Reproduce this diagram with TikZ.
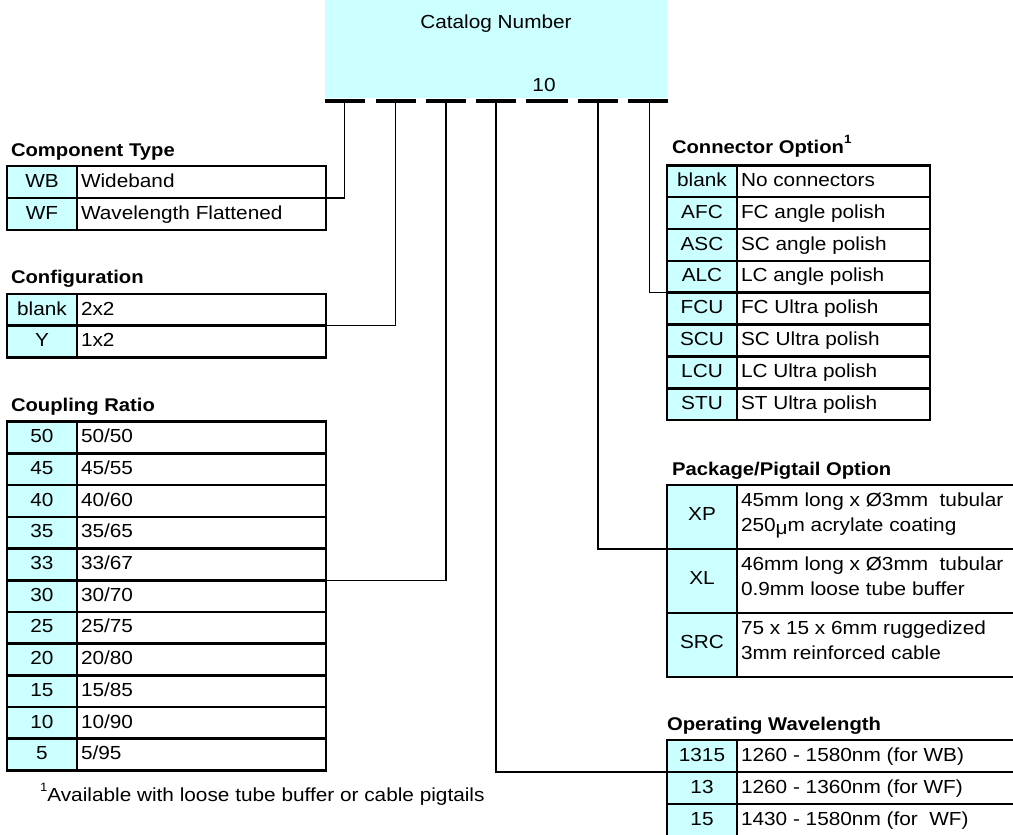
\documentclass[tikz,border=0pt]{standalone}
\usepackage{fontspec}
\setmainfont{Liberation Sans}[FakeStretch=1.1]
\definecolor{cellcyan}{HTML}{CCFFFF}
\newcommand\trow[9]{%
  \node[codebox, minimum width=#4, minimum height=#6] (#1c) at (#2,#3) {};
  \node[descbox, minimum width=#5, minimum height=#6] (#1d) at (#1c.north east) {};
  \node[anchor=base] (#1ct) at ([yshift=-#9pt]#1c.north) {#7};
  \node[anchor=base west] (#1dt) at ([xshift=4pt,yshift=-21pt]#1d.north west) {#8};
}
\newcommand\supone[1]{\raisebox{0.5em}{\fontsize{12}{12}\selectfont #1}}
\begin{document}
\begin{tikzpicture}[x=1pt,y=-1pt,
  every node/.style={font=\fontsize{18.9}{22}\selectfont, inner sep=0pt, outer sep=0pt},
  codebox/.style={draw, line width=2.6pt, fill=cellcyan, anchor=north west},
  descbox/.style={draw, line width=2.6pt, anchor=north west},
  title/.style={anchor=base west, font=\fontsize{18.4}{22}\selectfont\bfseries},
  conn/.style={line width=1.4pt},
  dashbar/.style={fill=black, draw=none, minimum height=4, minimum width=40}
]
\useasboundingbox (0,0) rectangle (1013,835);
\clip (0,0) rectangle (1013,835);

% catalog box
\node[fill=cellcyan, minimum width=342, minimum height=98, anchor=north west] (cat) at (325,0) {};
\node[anchor=base] (catt) at ([yshift=-28pt]cat.north) {Catalog Number};
\node[dashbar] (d1) at (344.5,100.7) {};
\node[dashbar] (d2) at (395.5,100.7) {};
\node[dashbar] (d3) at (446,100.7) {};
\node[dashbar] (d4) at (496,100.7) {};
\node[dashbar, minimum width=42] (d5) at (547,100.7) {};
\node[dashbar] (d6) at (598,100.7) {};
\node[dashbar] (d7) at (648,100.7) {};
\coordinate (d7s) at ([xshift=1.5pt]d7.south);
\node[anchor=base] (ten) at ([xshift=-3pt,yshift=7pt]d5.north) {10};

% Component Type
\node[title] (tct) at (11,156.5) {Component Type};
\trow{ct1}{7}{166}{70}{249}{32}{WB}{Wideband}{21}
\trow{ct2}{7}{198}{70}{249}{32}{WF}{Wavelength Flattened}{21}

% Configuration
\node[title] (tcf) at (11,283) {Configuration};
\trow{cf1}{7}{294}{70}{249}{31.7}{blank}{2x2}{21}
\trow{cf2}{7}{325.7}{70}{249}{31.7}{Y}{1x2}{21}

% Coupling Ratio
\node[title] (tcr) at (11,411) {Coupling Ratio};
\trow{cr1}{7}{421.7}{70}{249}{31.7}{50}{50/50}{21}
\trow{cr2}{7}{453.4}{70}{249}{31.7}{45}{45/55}{21}
\trow{cr3}{7}{485.1}{70}{249}{31.7}{40}{40/60}{21}
\trow{cr4}{7}{516.8}{70}{249}{31.7}{35}{35/65}{21}
\trow{cr5}{7}{548.5}{70}{249}{31.7}{33}{33/67}{21}
\trow{cr6}{7}{580.2}{70}{249}{31.7}{30}{30/70}{21}
\trow{cr7}{7}{611.9}{70}{249}{31.7}{25}{25/75}{21}
\trow{cr8}{7}{643.6}{70}{249}{31.7}{20}{20/80}{21}
\trow{cr9}{7}{675.3}{70}{249}{31.7}{15}{15/85}{21}
\trow{cr10}{7}{707.0}{70}{249}{31.7}{10}{10/90}{21}
\trow{cr11}{7}{738.7}{70}{249}{31.7}{5}{5/95}{21}

% Connector Option
\node[title] (tco) at (672,153) {Connector Option\supone{\bfseries 1}};
\trow{co1}{667}{165.3}{70}{193}{31.85}{blank}{No connectors}{21}
\trow{co2}{667}{197.15}{70}{193}{31.85}{AFC}{FC angle polish}{21}
\trow{co3}{667}{229.0}{70}{193}{31.85}{ASC}{SC angle polish}{21}
\trow{co4}{667}{260.85}{70}{193}{31.85}{ALC}{LC angle polish}{21}
\trow{co5}{667}{292.7}{70}{193}{31.85}{FCU}{FC Ultra polish}{21}
\trow{co6}{667}{324.55}{70}{193}{31.85}{SCU}{SC Ultra polish}{21}
\trow{co7}{667}{356.4}{70}{193}{31.85}{LCU}{LC Ultra polish}{21}
\trow{co8}{667}{388.25}{70}{193}{31.85}{STU}{ST Ultra polish}{21}

% Package/Pigtail Option
\node[title] (tpk) at (672,475) {Package/Pigtail Option};
\trow{pk1}{667}{485}{70}{330}{64}{XP}{45mm long x Ø3mm~ tubular}{35}
\trow{pk2}{667}{549}{70}{330}{64}{XL}{46mm long x Ø3mm~ tubular}{35}
\trow{pk3}{667}{613}{70}{330}{64}{SRC}{75 x 15 x 6mm ruggedized}{35}
\node[anchor=base west] (pk1e) at ([xshift=4pt,yshift=-46pt]pk1d.north west) {250\raisebox{-3pt}{μ}m acrylate coating};
\node[anchor=base west] (pk2e) at ([xshift=4pt,yshift=-46pt]pk2d.north west) {0.9mm loose tube buffer};
\node[anchor=base west] (pk3e) at ([xshift=4pt,yshift=-46pt]pk3d.north west) {3mm reinforced cable};

% Operating Wavelength
\node[title] (tow) at (667,730) {Operating Wavelength};
\trow{ow1}{667}{740}{70}{330}{32}{1315}{1260 - 1580nm (for WB)}{21}
\trow{ow2}{667}{772}{70}{330}{32}{13}{1260 - 1360nm (for WF)}{21}
\trow{ow3}{667}{804}{70}{330}{32}{15}{1430 - 1580nm (for~ WF)}{21}

% footnote
\node[anchor=base west] (fn) at (40,801) {\supone{1}Available with loose tube buffer or cable pigtails};

% connectors
\draw[conn] (d1.south) |- (ct1d.south east);
\draw[conn] (d2.south) |- (cf1d.south east);
\draw[conn] (d3.south) |- (cr5d.south east);
\draw[conn] (d4.south) |- (ow1c.south west);
\draw[conn] (d6.south) |- (pk1c.south west);
\draw[conn] (d7s) |- (co4c.south west);
\end{tikzpicture}
\end{document}
